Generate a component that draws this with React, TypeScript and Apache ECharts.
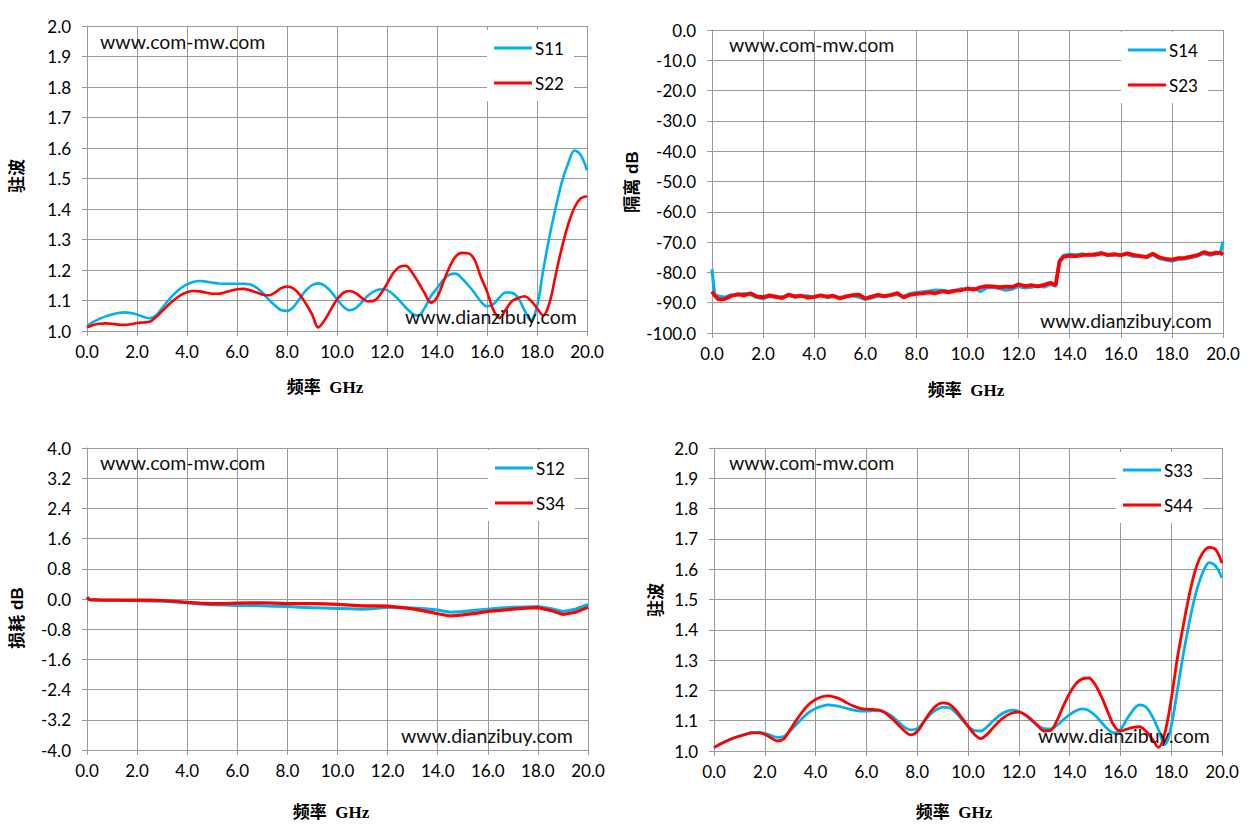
import React, { useEffect, useRef } from "react";
import * as echarts from "echarts";

// ---------- data ----------
const freqQ = [
  0, 0.25, 0.5, 0.75, 1, 1.25, 1.5, 1.75, 2, 2.25, 2.5, 2.75, 3, 3.25, 3.5, 3.75,
  4, 4.25, 4.5, 4.75, 5, 5.25, 5.5, 5.75, 6, 6.25, 6.5, 6.75, 7, 7.25, 7.5, 7.75,
  8, 8.25, 8.5, 8.75, 9, 9.25, 9.5, 9.75, 10, 10.25, 10.5, 10.75, 11, 11.25, 11.5, 11.75,
  12, 12.25, 12.5, 12.75, 13, 13.25, 13.5, 13.75, 14, 14.25, 14.5, 14.75, 15, 15.25, 15.5, 15.75,
  16, 16.25, 16.5, 16.75, 17, 17.25, 17.5, 17.75, 18, 18.25, 18.5, 18.75, 19, 19.25, 19.5, 19.75, 20,
];

const s11 = [
  1.016, 1.03, 1.04, 1.048, 1.054, 1.059, 1.061, 1.059, 1.054, 1.047, 1.042, 1.05,
  1.075, 1.1, 1.122, 1.14, 1.153, 1.161, 1.164, 1.162, 1.159, 1.156, 1.155, 1.155,
  1.155, 1.155, 1.153, 1.144, 1.127, 1.105, 1.085, 1.069, 1.066, 1.078, 1.105, 1.132,
  1.15, 1.156, 1.149, 1.13, 1.104, 1.08, 1.068, 1.075, 1.095, 1.117, 1.131, 1.137,
  1.134, 1.12, 1.1, 1.077, 1.058, 1.05, 1.075, 1.114, 1.14, 1.168, 1.185, 1.188,
  1.172, 1.15, 1.125, 1.097, 1.081, 1.088, 1.11, 1.126, 1.125, 1.108, 1.068, 1.035,
  1.08, 1.2, 1.31, 1.405, 1.49, 1.55, 1.592, 1.577, 1.527,
];
const s22 = [
  1.012, 1.02, 1.024, 1.025, 1.024, 1.021, 1.02, 1.022, 1.026, 1.028, 1.03, 1.045,
  1.065, 1.085, 1.103, 1.118, 1.127, 1.131, 1.13, 1.126, 1.122, 1.122, 1.126, 1.132,
  1.137, 1.138, 1.134, 1.127, 1.12, 1.117, 1.125, 1.14, 1.146, 1.14, 1.12, 1.09,
  1.055, 1.012, 1.035, 1.07, 1.103, 1.125, 1.131, 1.124, 1.108, 1.097, 1.1, 1.122,
  1.155, 1.19, 1.21, 1.214, 1.192, 1.16, 1.125, 1.093, 1.11, 1.16, 1.21, 1.245,
  1.256, 1.255, 1.234, 1.178, 1.13, 1.07, 1.043, 1.07, 1.098, 1.108, 1.114, 1.1,
  1.075, 1.051, 1.092, 1.185, 1.275, 1.35, 1.405, 1.435, 1.442,
];
const s33 = [
  1.011, 1.023, 1.033, 1.042, 1.049, 1.056, 1.061, 1.061, 1.058, 1.051, 1.045, 1.048,
  1.066, 1.088, 1.11, 1.128, 1.14, 1.148, 1.152, 1.15, 1.146, 1.14, 1.135, 1.132,
  1.132, 1.133, 1.134, 1.128, 1.115, 1.097, 1.078, 1.07, 1.074, 1.095, 1.12, 1.136,
  1.144, 1.143, 1.128, 1.105, 1.082, 1.067, 1.066, 1.08, 1.1, 1.118, 1.13, 1.135,
  1.131, 1.118, 1.1, 1.084, 1.074, 1.073, 1.085, 1.103, 1.12, 1.133, 1.139, 1.134,
  1.118, 1.095, 1.072, 1.059, 1.07, 1.104, 1.135, 1.152, 1.145, 1.115, 1.07, 1.022,
  1.082, 1.205, 1.33, 1.44, 1.53, 1.59, 1.622, 1.61, 1.571,
];
const s44 = [
  1.011, 1.023, 1.033, 1.042, 1.049, 1.055, 1.06, 1.06, 1.055, 1.043, 1.033, 1.04,
  1.071, 1.103, 1.132, 1.155, 1.17, 1.179, 1.182, 1.178, 1.17, 1.158, 1.148, 1.141,
  1.138, 1.137, 1.135, 1.125, 1.108, 1.087, 1.066, 1.053, 1.064, 1.095, 1.127, 1.15,
  1.159, 1.155, 1.137, 1.11, 1.082, 1.055, 1.041, 1.055, 1.078, 1.1, 1.116, 1.126,
  1.128, 1.12, 1.104, 1.083, 1.066, 1.068, 1.1, 1.148, 1.19, 1.222, 1.238, 1.241,
  1.22, 1.18, 1.13, 1.083, 1.066, 1.072, 1.078, 1.08, 1.066, 1.04, 1.012, 1.06,
  1.17, 1.31, 1.425, 1.53, 1.61, 1.655, 1.672, 1.665, 1.62,
];

const freqIso = [
  0, 0.1, 0.25, 0.5, 0.75, 1, 1.25, 1.5, 1.75, 2, 2.25, 2.5, 2.75, 3, 3.25, 3.5, 3.75,
  4, 4.25, 4.5, 4.75, 5, 5.25, 5.5, 5.75, 6, 6.25, 6.5, 6.75, 7, 7.25, 7.5, 7.75,
  8, 8.25, 8.5, 8.75, 9, 9.25, 9.5, 9.75, 10, 10.25, 10.5, 10.75, 11, 11.25, 11.5, 11.75,
  12, 12.25, 12.5, 12.75, 13, 13.25, 13.45, 13.6, 13.75, 14, 14.25, 14.5, 14.75,
  15, 15.25, 15.5, 15.75, 16, 16.25, 16.5, 16.75, 17, 17.25, 17.5, 17.75,
  18, 18.25, 18.5, 18.75, 19, 19.25, 19.5, 19.75, 19.9, 20,
];
const s14 = [
  -79.0, -87.3, -87.8, -88.2, -87.4, -87.5, -87.0, -87.3, -88.3, -88.7, -87.9, -88.3, -88.1,
  -87.6, -88.2, -87.9, -87.7, -88.4, -87.5, -88.3, -88.0, -88.2, -88.1, -87.7, -88.2,
  -88.9, -88.4, -87.8, -88.1, -87.4, -87.3, -87.9, -87.0, -86.7, -86.4, -86.2, -85.8,
  -85.9, -86.2, -86.1, -85.4, -85.6, -85.2, -86.3, -85.1, -84.9, -85.3, -85.9, -85.5,
  -84.6, -85.1, -84.9, -84.5, -84.8, -84.0, -84.6, -76.0, -74.4, -74.0, -74.2, -73.9, -74.4,
  -73.8, -73.5, -74.5, -74.3, -74.0, -74.1, -74.8, -74.4, -75.2, -74.1, -75.4, -75.9,
  -76.3, -75.7, -75.6, -75.1, -74.6, -73.8, -74.3, -73.8, -73.5, -69.8,
];
const s23 = [
  -86.3, -87.6, -88.9, -88.8, -87.8, -87.2, -87.6, -86.9, -87.9, -88.2, -87.6, -88.0, -88.5,
  -87.3, -87.9, -87.7, -88.3, -88.1, -87.6, -88.0, -87.7, -88.6, -87.9, -87.5, -87.3,
  -88.6, -88.0, -87.4, -87.8, -87.5, -86.8, -88.3, -87.4, -87.1, -86.9, -86.6, -86.9,
  -86.2, -86.6, -86.0, -85.9, -85.3, -85.7, -84.9, -84.5, -84.6, -84.9, -84.7, -84.8,
  -83.9, -84.5, -84.2, -84.6, -84.1, -83.4, -84.2, -76.5, -74.9, -74.5, -74.6, -74.3, -74.1,
  -74.2, -73.7, -74.2, -74.0, -74.4, -73.7, -74.2, -74.6, -74.9, -73.8, -75.0, -75.5,
  -75.8, -75.3, -75.2, -74.8, -74.3, -73.3, -73.9, -73.5, -73.6, -74.1,
];

const freqLoss = [
  0, 0.1, 0.5, 1, 1.5, 2, 2.5, 3, 3.5, 4, 4.5, 5, 5.5, 6, 6.5, 7, 7.5, 8, 8.5, 9, 9.5,
  10, 10.5, 11, 11.5, 12, 12.5, 13, 13.5, 14, 14.5, 15, 15.5, 16, 16.5, 17, 17.5, 18, 18.5, 19, 19.5, 20,
];
const s12 = [
  0.03, -0.02, -0.03, -0.035, -0.04, -0.045, -0.05, -0.06, -0.08, -0.1, -0.13, -0.15, -0.16,
  -0.17, -0.17, -0.18, -0.19, -0.2, -0.22, -0.23, -0.24, -0.25, -0.26, -0.27, -0.25, -0.22,
  -0.23, -0.24, -0.26, -0.29, -0.35, -0.33, -0.3, -0.27, -0.24, -0.22, -0.21, -0.2, -0.25,
  -0.33, -0.27, -0.14,
];
const s34 = [
  0.05, -0.02, -0.025, -0.03, -0.03, -0.03, -0.03, -0.04, -0.06, -0.09, -0.11, -0.12, -0.12,
  -0.11, -0.1, -0.1, -0.11, -0.12, -0.12, -0.12, -0.13, -0.14, -0.16, -0.18, -0.18, -0.19,
  -0.22, -0.26, -0.32, -0.39, -0.45, -0.42, -0.38, -0.33, -0.3, -0.27, -0.24, -0.23, -0.3,
  -0.41, -0.35, -0.22,
];

const xTitle = "频率  GHz";
const yTitles = ["驻波", "隔离 dB", "损耗 dB", "驻波"];
const legendNames = [["S11", "S22"], ["S14", "S23"], ["S12", "S34"], ["S33", "S44"]];
const watermarkTop = "www.com-mw.com";
const watermarkBottom = "www.dianzibuy.com";

// ---------- styling ----------
const BLUE = "#00B0F0";
const RED = "#FF0000";
const GRIDC = "#9A9A9A";
const FONT = "Lato, 'Liberation Sans', sans-serif";
const TITLE_FONT = "'Liberation Serif', 'Noto Sans CJK SC', serif";
const YTITLE_FONT = "'Liberation Sans', 'Noto Sans CJK SC', sans-serif";

const grids = [
  { left: 87, top: 26, width: 500, height: 305 },
  { left: 712, top: 30, width: 511, height: 303 },
  { left: 87, top: 448, width: 501, height: 302 },
  { left: 714, top: 448, width: 508, height: 303 },
];
const yRanges = [
  { min: 1, max: 2, interval: 0.1 },
  { min: -100, max: 0, interval: 10 },
  { min: -4, max: 4, interval: 0.8 },
  { min: 1, max: 2, interval: 0.1 },
];
const legendPos = [
  { left: 487, top: 30 },
  { left: 1121, top: 32 },
  { left: 488, top: 450 },
  { left: 1116, top: 452 },
];
const yTitlePos = [
  [17, 176],
  [632, 182],
  [17, 618],
  [656, 600],
];
const xTitlePos = [
  [325, 387],
  [966, 390],
  [331, 812],
  [954, 812],
];
const wmTopPos = [
  [100, 41],
  [729, 44],
  [100, 462],
  [729, 462],
];
const wmBottomPos = [
  [405, 316],
  [1040, 320],
  [401, 735],
  [1038, 735],
];

const fmt = (v: number) => (Math.abs(v) < 1e-9 ? 0 : v).toFixed(1);
const zip = (f: number[], v: number[]) => f.map((x, i) => [x, v[i]]);

function buildOption() {
  const xAxis = grids.map((_, i) => ({
    type: "value",
    gridIndex: i,
    min: 0,
    max: 20,
    interval: 2,
    axisLine: { show: true, onZero: false, lineStyle: { color: GRIDC } },
    axisTick: { show: true, length: 5, lineStyle: { color: GRIDC } },
    splitLine: { show: true, lineStyle: { color: GRIDC, width: 1 } },
    axisLabel: { margin: 12, fontFamily: FONT, fontSize: 17, color: "#000", formatter: fmt },
  }));
  const yAxis = grids.map((_, i) => ({
    type: "value",
    gridIndex: i,
    ...yRanges[i],
    axisLine: { show: true, onZero: false, lineStyle: { color: GRIDC } },
    axisTick: { show: true, length: 5, lineStyle: { color: GRIDC } },
    splitLine: { show: true, lineStyle: { color: GRIDC, width: 1 } },
    axisLabel: { margin: 16, fontFamily: FONT, fontSize: 17, color: "#000", formatter: fmt },
  }));

  const pairs: [number[], number[], number[], number, boolean, number, number][] = [
    [freqQ, s11, s22, 0, true, 2.6, 2.6],
    [freqIso, s14, s23, 1, false, 3.2, 3.8],
    [freqLoss, s12, s34, 2, false, 3, 3.2],
    [freqQ, s33, s44, 3, true, 2.8, 2.8],
  ];
  const series: any[] = [];
  pairs.forEach(([f, a, b, gi, smooth, wa, wb]) => {
    series.push({
      name: legendNames[gi][0],
      type: "line",
      xAxisIndex: gi,
      yAxisIndex: gi,
      data: zip(f, a),
      smooth: smooth ? 0.35 : false,
      showSymbol: false,
      symbol: "none",
      color: BLUE,
      lineStyle: { color: BLUE, width: wa },
      z: 2,
    });
    series.push({
      name: legendNames[gi][1],
      type: "line",
      xAxisIndex: gi,
      yAxisIndex: gi,
      data: zip(f, b),
      smooth: smooth ? 0.35 : false,
      showSymbol: false,
      symbol: "none",
      color: RED,
      lineStyle: { color: RED, width: wb },
      z: 3,
    });
  });

  const legend = legendNames.map((names, i) => ({
    orient: "vertical",
    left: legendPos[i].left,
    top: legendPos[i].top,
    padding: [8, 10, 8, 7],
    itemGap: 15,
    itemWidth: 38,
    itemHeight: 3,
    icon: "rect",
    selectedMode: false,
    backgroundColor: "#ffffff",
    textStyle: { fontFamily: FONT, fontSize: 17, color: "#000", lineHeight: 20, padding: [0, 0, 0, -2] },
    data: names,
  }));

  const graphic: any[] = [];
  for (let i = 0; i < 4; i++) {
    graphic.push({
      type: "text",
      x: yTitlePos[i][0],
      y: yTitlePos[i][1],
      rotation: Math.PI / 2,
      z: 10,
      style: {
        text: yTitles[i],
        fontFamily: YTITLE_FONT,
        fontSize: 17,
        fontWeight: "bold",
        fill: "#000",
        align: "center",
        verticalAlign: "middle",
        textAlign: "center",
        textVerticalAlign: "middle",
      },
    });
    graphic.push({
      type: "text",
      x: xTitlePos[i][0],
      y: xTitlePos[i][1],
      z: 10,
      style: {
        text: xTitle,
        fontFamily: TITLE_FONT,
        fontSize: 17,
        fontWeight: "bold",
        fill: "#000",
        align: "center",
        verticalAlign: "middle",
        textAlign: "center",
        textVerticalAlign: "middle",
      },
    });
    graphic.push({
      type: "text",
      x: wmTopPos[i][0],
      y: wmTopPos[i][1],
      z: 10,
      style: {
        text: watermarkTop,
        fontFamily: FONT,
        fontSize: 19.5,
        fill: "#111",
        align: "left",
        verticalAlign: "middle",
        textAlign: "left",
        textVerticalAlign: "middle",
      },
    });
    graphic.push({
      type: "text",
      x: wmBottomPos[i][0],
      y: wmBottomPos[i][1],
      z: 10,
      style: {
        text: watermarkBottom,
        fontFamily: FONT,
        fontSize: 19.5,
        fill: "#111",
        align: "left",
        verticalAlign: "middle",
        textAlign: "left",
        textVerticalAlign: "middle",
      },
    });
  }

  return {
    animation: false,
    backgroundColor: "#ffffff",
    grid: grids.map((g) => ({ ...g, containLabel: false })),
    xAxis,
    yAxis,
    legend,
    series,
    graphic,
  };
}

export default function App() {
  const ref = useRef<HTMLDivElement>(null);
  useEffect(() => {
    const chart = echarts.init(ref.current!, null, { renderer: "svg" });
    chart.setOption(buildOption() as any);
    return () => chart.dispose();
  }, []);
  return (
    <div
      ref={ref}
      style={{ position: "absolute", left: 0, top: 0, width: 1258, height: 833, background: "#fff" }}
    />
  );
}
